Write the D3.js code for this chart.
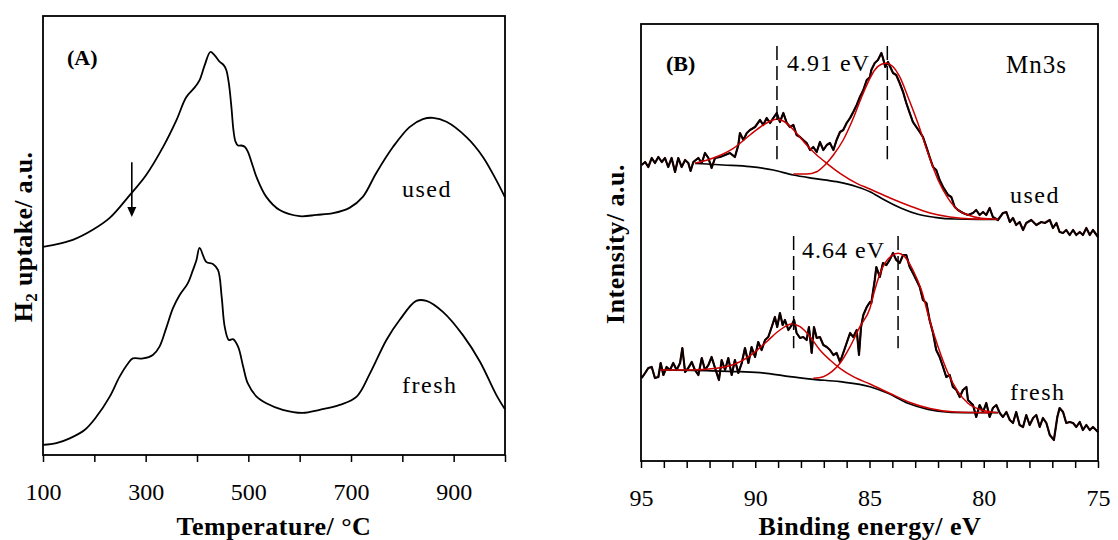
<!DOCTYPE html>
<html>
<head>
<meta charset="utf-8">
<script src="https://cdn.jsdelivr.net/npm/d3@7/dist/d3.min.js"></script>
<style>
  body { margin: 0; background: #fff; }
  svg { display: block; font-family: "Liberation Serif", "Times New Roman", serif; }
</style>
</head>
<body>
<svg id="chart" width="1118" height="540"></svg>
<script>
// ---------- (A) TPR data: [temperature °C, H2 uptake a.u.]
var tprUsed = [[100,47.4],[119,47.8],[158,49.0],[197,51.3],[230,54.0],[269,59.2],[301,63.8],[334,70.2],
  [360,76.3],[379,81.5],[396,83.8],[405,85.4],[415,88.8],[426,91.8],[434,91.1],[444,89.6],[452,88.8],
  [457,87.7],[462,84.7],[467,79.3],[471,74.0],[475,71.4],[480,70.5],[486,70.5],[493,70.2],[499,69.1],
  [509,65.7],[516,63.3],[535,58.8],[561,55.8],[600,54.4],[633,54.7],[665,55.1],[697,56.3],[723,58.8],
  [749,64.2],[782,70.2],[814,74.7],[840,76.5],[860,76.8],[886,75.9],[925,72.4],[957,67.9],[983,62.6],[1000,58.7]];
var tprFresh = [[100,2.3],[126,2.7],[152,3.8],[181,5.7],[204,8.7],[230,13.3],[249,17.8],[266,20.9],
  [275,22.0],[295,22.0],[314,22.8],[327,24.7],[340,28.9],[353,33.4],[366,36.4],[382,39.1],[392,42.1],
  [399,44.4],[405,47.2],[418,44.0],[431,43.5],[441,42.1],[448,36.1],[454,29.2],[462,26.2],[470,26.4],
  [480,24.7],[490,20.1],[499,16.3],[516,13.3],[535,11.8],[567,10.3],[606,9.6],[639,10.3],[678,11.4],
  [711,13.3],[737,18.6],[769,26.2],[795,30.8],[827,35.1],[847,35.1],[879,32.6],[918,27.3],[951,21.3],
  [983,13.7],[1000,10.4]];
var tprTicks = [100,200,300,400,500,600,700,800,900,1000];
var tprLabels = [100,300,500,700,900];
var arrowT = 273, arrowFrom = 66.7, arrowTo = 54.2;

// ---------- (B) Mn3s XPS data: [binding energy eV, intensity a.u.]
var usedRaw = [[94.97,296],[94.82,299],[94.68,294],[94.53,303],[94.39,298],[94.24,304],[94.09,299],[93.95,303],
  [93.81,294],[93.66,303],[93.51,289],[93.37,303],[93.22,294],[93.07,301],[92.93,298],[92.83,290],[92.71,299],
  [92.49,303],[92.34,298],[92.20,308],[92.05,303],[91.91,293],[91.76,303],[91.54,304],[91.32,306],[91.11,308],
  [90.89,304],[90.74,316],[90.67,328],[90.52,321],[90.37,328],[90.23,331],[90.01,334],[89.79,341],[89.65,336],
  [89.50,343],[89.35,338],[89.21,343],[89.06,348],[88.92,339],[88.77,348],[88.62,338],[88.48,334],[88.33,336],
  [88.19,326],[88.04,324],[87.90,321],[87.75,318],[87.60,311],[87.46,314],[87.31,309],[87.17,319],[87.02,311],
  [86.87,316],[86.73,318],[86.58,311],[86.44,321],[86.29,329],[86.15,331],[86.00,338],[85.85,343],[85.71,349],
  [85.56,356],[85.42,364],[85.27,371],[85.12,381],[84.98,384],[84.92,391],[84.77,398],[84.63,401],[84.48,408],
  [84.41,403],[84.31,394],[84.19,399],[84.07,393],[83.97,388],[83.83,386],[83.68,378],[83.53,369],[83.39,358],
  [83.24,348],[83.10,339],[82.95,334],[82.80,329],[82.66,324],[82.51,314],[82.37,304],[82.22,294],[82.08,291],
  [81.93,281],[81.78,274],[81.56,266],[81.42,264],[81.27,254],[81.13,251],[80.91,248],[80.69,246],[80.47,248],
  [80.33,251],[80.18,246],[80.03,249],[79.89,246],[79.74,253],[79.60,244],[79.38,241],[79.16,248],[79.01,249],
  [78.86,239],[78.72,243],[78.58,236],[78.43,239],[78.28,231],[78.14,238],[77.92,241],[77.70,236],[77.48,239],
  [77.33,238],[77.11,241],[76.97,233],[76.82,238],[76.68,229],[76.53,228],[76.39,231],[76.24,226],[76.09,231],
  [75.95,226],[75.80,229],[75.66,226],[75.51,233],[75.36,226],[75.22,231],[75.00,224]];
var usedBg = [[92.64,297.7],[91.40,296],[90.23,294.3],[89.21,291],[88.33,286],[87.46,282.7],[86.44,279.3],
  [85.56,274.3],[84.98,269.3],[84.34,261],[83.61,252.7],[82.88,246.7],[82.15,243.7],[81.27,242],[80.25,241.7],[79.38,241.7]];
var usedFit1 = [[92.64,297.7],[91.69,304.3],[90.96,312.7],[90.23,326],[89.65,336],[89.06,341.7],[88.62,337.7],
  [88.19,327.7],[87.75,316],[87.31,306],[86.87,297.7],[86.29,287.7],[85.56,277.7],[84.98,272],[84.10,263],
  [83.23,255],[82.35,248],[81.48,244],[80.46,242],[79.73,241.7]];
var usedFit2 = [[88.33,287],[87.75,287],[87.31,289.3],[86.95,296],[86.58,306],[86.15,321],[85.71,342.7],
  [85.34,364.3],[84.98,382.7],[84.77,391],[84.48,396.7],[84.26,397.7],[83.97,394.3],[83.68,384.3],[83.32,364.3],
  [82.88,337.7],[82.44,307.7],[82.00,281],[81.56,262.7],[81.13,251],[80.69,246],[80.11,242.7],[79.38,241.7]];

var freshRaw = [[94.97,83],[94.82,88],[94.68,93],[94.53,94],[94.39,83],[94.24,84],[94.14,98],[94.02,86],
  [93.88,94],[93.73,91],[93.59,98],[93.44,91],[93.29,98],[93.19,113],[93.07,89],[92.93,93],[92.78,99],[92.64,91],
  [92.49,86],[92.34,103],[92.20,91],[92.05,96],[91.91,104],[91.76,93],[91.59,81],[91.47,101],[91.32,91],[91.18,103],
  [91.03,86],[90.89,101],[90.74,88],[90.59,98],[90.45,113],[90.30,98],[90.16,114],[90.01,104],[89.87,119],[89.72,111],
  [89.57,121],[89.43,124],[89.28,134],[89.14,144],[89.04,134],[88.92,148],[88.80,136],[88.70,141],[88.55,131],
  [88.40,136],[88.30,141],[88.19,128],[88.04,123],[87.90,124],[87.75,121],[87.65,134],[87.53,108],[87.43,134],
  [87.31,123],[87.17,124],[87.02,116],[86.87,114],[86.73,111],[86.58,106],[86.44,108],[86.29,99],[86.15,108],
  [86.00,118],[85.85,128],[85.71,124],[85.56,131],[85.46,106],[85.37,134],[85.27,146],[85.12,154],[84.98,159],
  [84.92,158],[84.77,181],[84.70,194],[84.55,184],[84.41,198],[84.26,196],[84.12,201],[83.97,208],[83.83,201],
  [83.68,198],[83.53,206],[83.39,206],[83.24,194],[83.10,188],[82.95,181],[82.80,174],[82.66,161],[82.51,158],
  [82.37,141],[82.22,128],[82.08,111],[81.93,104],[81.78,94],[81.64,84],[81.49,86],[81.35,74],[81.20,71],
  [81.05,64],[80.91,71],[80.76,74],[80.69,61],[80.47,56],[80.33,44],[80.18,56],[80.03,49],[79.89,58],[79.74,44],
  [79.60,53],[79.45,56],[79.30,48],[79.16,44],[79.01,49],[78.86,41],[78.72,38],[78.58,49],[78.43,36],[78.28,34],
  [78.14,46],[77.99,36],[77.84,43],[77.70,46],[77.55,34],[77.41,43],[77.26,38],[77.11,26],[76.93,21],[76.78,44],
  [76.68,53],[76.53,49],[76.39,38],[76.24,39],[76.09,38],[75.95,34],[75.80,39],[75.66,31],[75.51,36],[75.36,31],
  [75.22,34],[75.00,29]];
var freshBg = [[94.17,91],[92.12,90.3],[90.67,89.3],[89.50,87.7],[88.48,84.3],[87.46,81.7],[86.29,79.3],
  [84.98,74.3],[84.19,67.7],[83.32,57.7],[82.44,51.7],[81.42,48.7],[80.40,48.3],[79.38,48.3]];
var freshFit1 = [[94.17,91],[92.86,91],[91.69,92.7],[90.81,97.7],[90.09,107.7],[89.50,119.3],[88.92,131],
  [88.40,137],[88.04,134.3],[87.60,124.3],[87.17,111],[86.73,101],[86.29,92.7],[85.71,84.3],[84.98,77],
  [84.10,67.5],[83.23,58.5],[82.35,52.5],[81.26,49],[79.73,48.3]];
var freshFit2 = [[87.46,82.7],[87.02,84.3],[86.65,89.3],[86.29,97.7],[85.85,114.3],[85.42,134.3],[84.98,152.7],
  [84.77,171],[84.41,194.3],[84.05,205],[83.75,207.7],[83.46,204.3],[83.10,191],[82.73,171],[82.37,141],
  [82.00,114.3],[81.56,87.7],[81.13,69.3],[80.69,57.7],[80.11,51],[79.38,48.3]];

var usedPeaks = [89.05, 84.22], usedMarkTop = 415, usedMarkBottom = 301.7;
var freshPeaks = [88.32, 83.75], freshMarkTop = 225, freshMarkBottom = 112.7;
var xpsTicks = d3.range(75, 96, 1);
var xpsLabels = [95, 90, 85, 80, 75];

// ---------- drawing
var svg = d3.select("#chart");
svg.append("rect").attr("width", 1118).attr("height", 540).attr("fill", "#fff");

function frame(g, x0, y0, x1, y1) {
  g.append("rect").attr("x", x0).attr("y", y0).attr("width", x1 - x0).attr("height", y1 - y0)
    .attr("fill", "none").attr("stroke", "#000").attr("stroke-width", 1.8);
}

function styleAxis(g) {
  g.select(".domain").remove();
  g.selectAll(".tick line").attr("stroke", "#000").attr("stroke-width", 1.5);
  g.selectAll(".tick text").attr("font-size", 24).attr("fill", "#000")
    .attr("font-family", "Liberation Serif, serif");
}

// Panel A
var ax = d3.scaleLinear().domain([100, 1000]).range([43, 505]);
var ay = d3.scaleLinear().domain([0, 100]).range([455, 16]);
var gA = svg.append("g");

var lineA = d3.line().x(function(d){return ax(d[0]);}).y(function(d){return ay(d[1]);})
  .curve(d3.curveCatmullRom.alpha(0.5));

[tprUsed, tprFresh].forEach(function(s) {
  gA.append("path").datum(s).attr("d", lineA).attr("fill", "none")
    .attr("stroke", "#000").attr("stroke-width", 1.8);
});

var axA = gA.append("g").attr("transform", "translate(0," + ay(0) + ")")
  .call(d3.axisBottom(ax).tickValues(tprTicks).tickSize(7).tickPadding(21)
    .tickFormat(function(d){ return tprLabels.indexOf(d) >= 0 ? d : ""; }));
styleAxis(axA);
frame(gA, ax(100), ay(100), ax(1000), ay(0));

// arrow
var axx = ax(arrowT);
gA.append("line").attr("x1", axx).attr("x2", axx).attr("y1", ay(arrowFrom)).attr("y2", ay(arrowTo) - 8)
  .attr("stroke", "#000").attr("stroke-width", 1.6);
gA.append("path").attr("d", "M" + (axx - 4.5) + "," + (ay(arrowTo) - 10) + "L" + (axx + 4.5) + "," + (ay(arrowTo) - 10) +
  "L" + axx + "," + ay(arrowTo) + "Z").attr("fill", "#000");

gA.append("text").attr("x", 67).attr("y", 65).attr("font-size", 22).attr("font-weight", "bold").text("(A)");
gA.append("text").attr("x", 402).attr("y", 197).attr("font-size", 24).attr("letter-spacing", 1.5).text("used");
gA.append("text").attr("x", 402).attr("y", 393).attr("font-size", 24).attr("letter-spacing", 1.5).text("fresh");

gA.append("text").attr("x", 274).attr("y", 535).attr("text-anchor", "middle")
  .attr("font-size", 26).attr("font-weight", "bold").attr("letter-spacing", 0.5).text("Temperature/ °C");
var ytA = gA.append("text").attr("transform", "translate(32,237) rotate(-90)").attr("text-anchor", "middle")
  .attr("font-size", 26).attr("font-weight", "bold").attr("letter-spacing", 0.3);
ytA.append("tspan").text("H");
ytA.append("tspan").attr("font-size", 17).attr("dy", 5).text("2");
ytA.append("tspan").attr("dy", -5).text(" uptake/ a.u.");

// Panel B
var bx = d3.scaleLinear().domain([95, 75]).range([641, 1098]);
var by = d3.scaleLinear().domain([0, 437]).range([461, 24]);
var gB = svg.append("g");

var rawLine = d3.line().x(function(d){return bx(d[0]);}).y(function(d){return by(d[1]);});
var fitLine = d3.line().x(function(d){return bx(d[0]);}).y(function(d){return by(d[1]);})
  .curve(d3.curveMonotoneX);

[usedBg, freshBg].forEach(function(s) {
  gB.append("path").datum(s).attr("d", fitLine).attr("fill", "none")
    .attr("stroke", "#000").attr("stroke-width", 1.7);
});
[usedRaw, freshRaw].forEach(function(s) {
  gB.append("path").datum(s).attr("d", rawLine).attr("fill", "none")
    .attr("stroke", "#4a0000").attr("stroke-width", 2.2).attr("stroke-linejoin", "round");
  gB.append("path").datum(s).attr("d", rawLine).attr("fill", "none")
    .attr("stroke", "#000").attr("stroke-width", 1.6).attr("stroke-linejoin", "round");
});
[usedFit1, usedFit2, freshFit1, freshFit2].forEach(function(s) {
  gB.append("path").datum(s).attr("d", fitLine).attr("fill", "none")
    .attr("stroke", "#cc0000").attr("stroke-width", 1.5);
});

function peakMarks(peaks, top, bottom) {
  gB.selectAll(null).data(peaks).enter().append("line")
    .attr("x1", function(d){return bx(d);}).attr("x2", function(d){return bx(d);})
    .attr("y1", by(top)).attr("y2", by(bottom))
    .attr("stroke", "#000").attr("stroke-width", 1.5).attr("stroke-dasharray", "14,6");
}
peakMarks(usedPeaks, usedMarkTop, usedMarkBottom);
peakMarks(freshPeaks, freshMarkTop, freshMarkBottom);

var axB = gB.append("g").attr("transform", "translate(0," + by(0) + ")")
  .call(d3.axisBottom(bx).tickValues(xpsTicks).tickSize(7).tickPadding(21)
    .tickFormat(function(d){ return xpsLabels.indexOf(d) >= 0 ? d : ""; }));
styleAxis(axB);
frame(gB, bx(95), by(437), bx(75), by(0));

gB.append("text").attr("x", 666).attr("y", 71).attr("font-size", 22).attr("font-weight", "bold").text("(B)");
gB.append("text").attr("x", 787).attr("y", 71).attr("font-size", 24).attr("letter-spacing", 1).text("4.91 eV");
gB.append("text").attr("x", 802).attr("y", 258).attr("font-size", 24).attr("letter-spacing", 1).text("4.64 eV");
gB.append("text").attr("x", 1006).attr("y", 73).attr("font-size", 25).attr("letter-spacing", 1).text("Mn3s");
gB.append("text").attr("x", 1010).attr("y", 203).attr("font-size", 24).attr("letter-spacing", 1.5).text("used");
gB.append("text").attr("x", 1010).attr("y", 400).attr("font-size", 24).attr("letter-spacing", 1.5).text("fresh");

gB.append("text").attr("x", 870).attr("y", 535).attr("text-anchor", "middle")
  .attr("font-size", 26).attr("font-weight", "bold").attr("letter-spacing", 0.5).text("Binding energy/ eV");
gB.append("text").attr("transform", "translate(624,244) rotate(-90)").attr("text-anchor", "middle")
  .attr("font-size", 26).attr("font-weight", "bold").attr("letter-spacing", 0.5).text("Intensity/ a.u.");
</script>
</body>
</html>
